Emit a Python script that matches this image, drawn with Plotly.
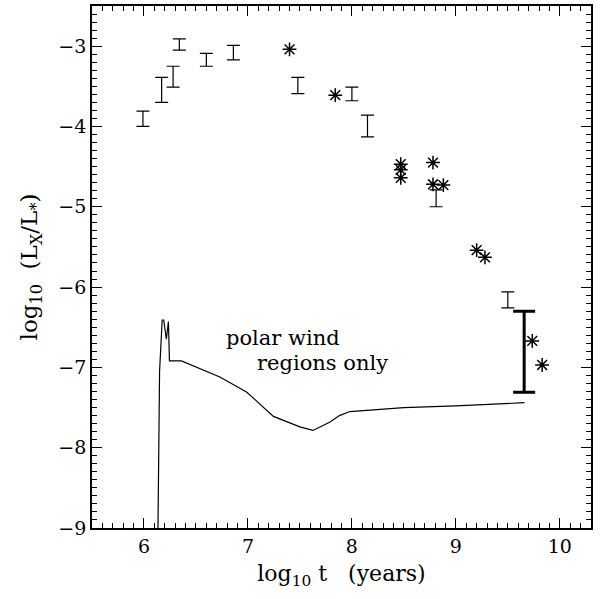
import plotly.graph_objects as go

# Measured X-ray luminosity ratios shown as ranges (thin bars)
bar_t = [5.99, 6.17, 6.28, 6.34, 6.60, 6.86, 7.48, 8.00, 8.15, 8.81, 9.50]
bar_lo = [-4.00, -3.70, -3.51, -3.05, -3.25, -3.17, -3.59, -3.68, -4.13, -5.00, -6.26]
bar_hi = [-3.81, -3.39, -3.25, -2.91, -3.09, -2.99, -3.39, -3.51, -3.86, -4.79, -6.06]

# Individual stars (asterisks)
star_t = [7.40, 7.84, 8.47, 8.47, 8.47, 8.78, 8.78, 8.88, 9.20, 9.28, 9.735, 9.83]
star_y = [-3.04, -3.61, -4.47, -4.54, -4.64, -4.45, -4.72, -4.73, -5.54, -5.63, -6.67, -6.97]

# Solar range (thick bar)
sun_t = [9.657]
sun_lo = [-7.31]
sun_hi = [-6.30]

# Model curve: polar wind regions only
model_t = [6.13, 6.15, 6.175, 6.19, 6.215, 6.235, 6.245, 6.36, 6.73, 6.99,
           7.245, 7.50, 7.625, 7.79, 7.88, 7.98, 8.50, 9.00, 9.66]
model_y = [-9.6, -7.05, -6.41, -6.41, -6.65, -6.43, -6.92, -6.92, -7.12, -7.31,
           -7.61, -7.74, -7.785, -7.68, -7.60, -7.55, -7.50, -7.48, -7.44]

FONT = "DejaVu Serif"


def mid_err(lo, hi):
    mid = [(a + b) / 2 for a, b in zip(lo, hi)]
    err = [(b - a) / 2 for a, b in zip(lo, hi)]
    return mid, err


fig = go.Figure()

fig.add_trace(go.Scatter(
    x=model_t, y=model_y, mode="lines",
    line=dict(color="black", width=1.2), showlegend=False,
))

bar_mid, bar_err = mid_err(bar_lo, bar_hi)
fig.add_trace(go.Scatter(
    x=bar_t, y=bar_mid, mode="markers",
    marker=dict(size=1, opacity=0),
    error_y=dict(type="data", array=bar_err, symmetric=True,
                 color="black", thickness=1.2, width=6.5),
    showlegend=False,
))

sun_mid, sun_err = mid_err(sun_lo, sun_hi)
fig.add_trace(go.Scatter(
    x=sun_t, y=sun_mid, mode="markers",
    marker=dict(size=1, opacity=0),
    error_y=dict(type="data", array=sun_err, symmetric=True,
                 color="black", thickness=3, width=11),
    showlegend=False,
))

fig.add_trace(go.Scatter(
    x=star_t, y=star_y, mode="markers",
    marker=dict(symbol="asterisk-open", size=11.5, color="black",
                line=dict(color="black", width=1.5)),
    showlegend=False,
))

fig.add_annotation(x=6.77, y=-6.64, text="polar wind", showarrow=False,
                   xanchor="left", yanchor="middle",
                   font=dict(family=FONT, size=21, color="black"))
fig.add_annotation(x=7.07, y=-6.95, text="regions only", showarrow=False,
                   xanchor="left", yanchor="middle",
                   font=dict(family=FONT, size=21, color="black"))

axis_common = dict(
    showline=True, linecolor="black", linewidth=1.8, mirror="allticks",
    ticks="inside", ticklen=10, tickwidth=1.2, tickcolor="black",
    showgrid=False, zeroline=False,
    tickfont=dict(family=FONT, size=19, color="black"),
    minor=dict(ticks="inside", ticklen=5, dtick=0.1, tickcolor="black",
               tickwidth=1.2, showgrid=False),
)

fig.update_xaxes(range=[5.5, 10.3], dtick=1, tick0=0,
                 title=dict(text="log<sub>10</sub> t   (years)",
                            font=dict(family=FONT, size=22, color="black"),
                            standoff=10),
                 **axis_common)
fig.update_yaxes(range=[-9.0, -2.5], dtick=1, tick0=0,
                 title=dict(text="log<sub>10</sub>  (L<sub>X</sub>/L<sub>*</sub>)",
                            font=dict(family=FONT, size=23, color="black"),
                            standoff=14),
                 **axis_common)

fig.update_layout(
    width=600, height=599,
    margin=dict(l=92, r=9, t=4, b=71),
    paper_bgcolor="white", plot_bgcolor="white",
)

fig.write_html("out.html")
